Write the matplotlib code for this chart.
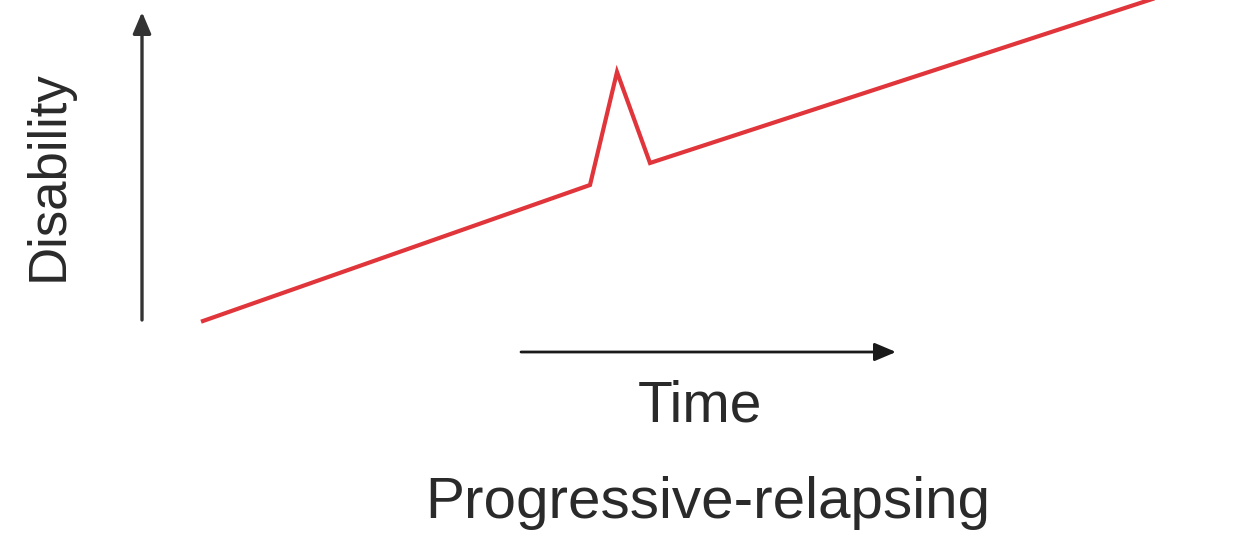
import matplotlib.pyplot as plt

# Курс болезни: время (x) и инвалидность (y), в пикселях исходной картинки
time_pts = [203, 590, 617, 650, 1180]
disability_pts = [321, 185, 72, 163, -10]

y_label = "Disability"
x_label = "Time"
title = "Progressive-relapsing"

plt.rcParams['font.family'] = ['Liberation Sans', 'DejaVu Sans']

fig = plt.figure(figsize=(12.34, 5.34), dpi=100)
ax = fig.add_axes([0, 0, 1, 1])
ax.set_xlim(0, 1234)
ax.set_ylim(534, 0)
ax.axis('off')

# Кривая
ax.plot(time_pts, disability_pts, color='#e0353a', lw=3.0, solid_joinstyle='miter')

# Стрелки осей
ax.annotate('', xy=(142, 12), xytext=(142, 320),
            arrowprops=dict(arrowstyle='-|>,head_length=1.3,head_width=0.55',
                            color='#333333', lw=2.4, shrinkA=0, shrinkB=0))
ax.annotate('', xy=(896, 352), xytext=(521, 352),
            arrowprops=dict(arrowstyle='-|>,head_length=1.3,head_width=0.55',
                            color='#1a1a1a', lw=2.0, shrinkA=0, shrinkB=0))

# Подписи
ax.text(49, 176, y_label, rotation=90, ha='center', va='center',
        fontsize=38, color='#2a2a2a')
ax.text(700, 407, x_label, ha='center', va='center', fontsize=41, color='#2a2a2a')
ax.text(708, 503, title, ha='center', va='center', fontsize=42, color='#2a2a2a')

fig.savefig("out.png", dpi=100)
